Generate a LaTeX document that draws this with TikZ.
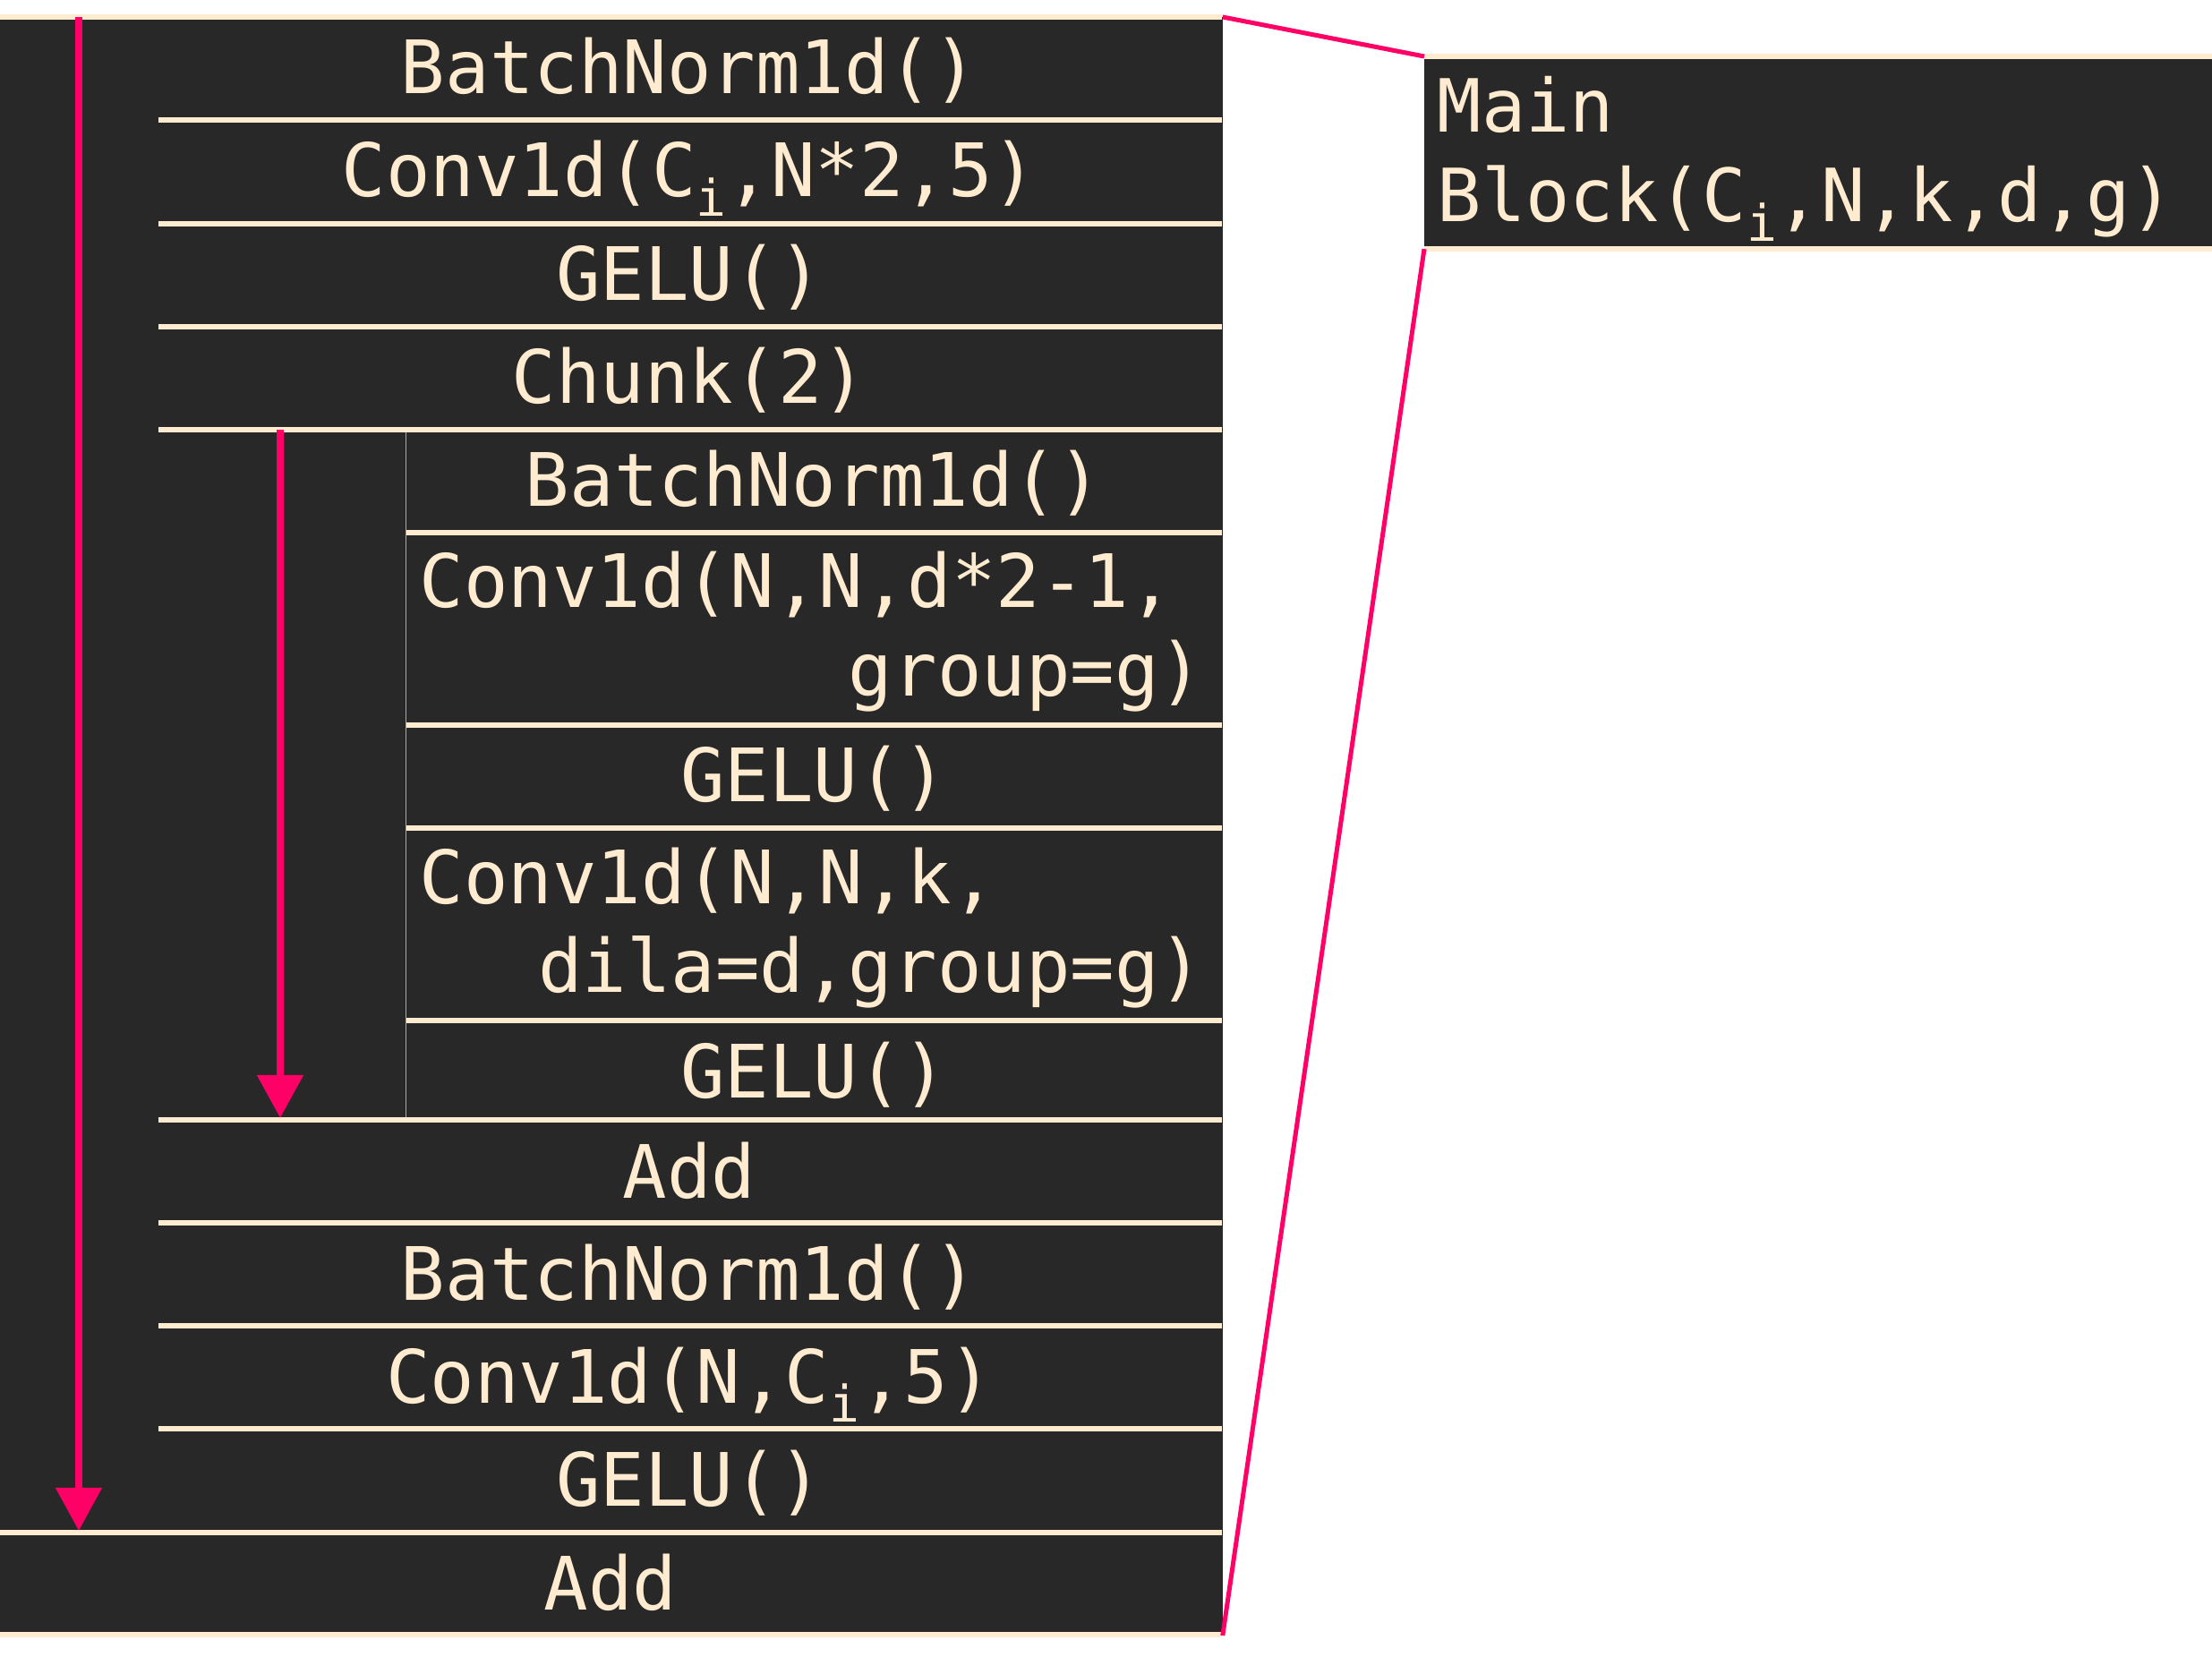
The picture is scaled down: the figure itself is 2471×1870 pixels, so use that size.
\documentclass[tikz,border=0pt]{standalone}
\usepackage{fontspec}
\newfontfamily\codefont{DejaVu Sans Mono}
\usetikzlibrary{arrows.meta}
\definecolor{bg}{HTML}{282828}
\definecolor{beige}{HTML}{FFEBCF}
\definecolor{pinkc}{HTML}{FF0066}
\newcommand{\subi}{\raisebox{-6pt}{\fontsize{16}{16}\selectfont i}}
\tikzset{
  blk/.style={fill=bg, draw=none, inner sep=0pt, outer sep=0pt},
  sepline/.style={draw=beige, line width=0.06cm},
  thinline/.style={draw=white!60!bg, line width=0.01cm},
  lbl/.style={text=beige, font=\codefont\fontsize{23.4}{28}\selectfont, inner sep=0pt, anchor=base},
  lblr/.style={text=beige, font=\codefont\fontsize{23.3}{28}\selectfont, inner sep=0pt, anchor=base west},
  flow/.style={draw=pinkc, line width=0.08cm, -{Triangle[width=0.5cm,length=0.48cm]}},
  link/.style={draw=pinkc, line width=0.05cm},
}
\begin{document}
\begin{tikzpicture}[x=0.01cm,y=-0.01cm]
\useasboundingbox[fill=white] (0,0) rectangle (2471,1870);
% backgrounds
\node[blk, minimum width=13.65cm, minimum height=18.07cm, anchor=north west] (main) at (0,19) {};
\node[blk, minimum width=8.80cm, minimum height=2.15cm, anchor=north west] (mb) at (1591,63) {};
% separator lines of the main block
\draw[sepline] (0,19) -- (1365,19);
\foreach \yy in {134.5,250,365.5,480,1251,1366,1481,1596}
  \draw[sepline] (177,\yy) -- (1365,\yy);
\foreach \yy in {595,810,925,1140}
  \draw[sepline] (453,\yy) -- (1365,\yy);
\draw[sepline] (0,1712) -- (1365,1712);
\draw[sepline] (0,1826) -- (1365,1826);
\draw[thinline] (453,483) -- (453,1248);
% right box lines
\draw[sepline] (mb.north west) -- (mb.north east);
\draw[sepline] (mb.south west) -- (mb.south east);
% labels
\node[lbl] (n1) at (770,105) {BatchNorm1d()};
\node[lbl] (n2) at (770,220) {Conv1d(C\subi,N*2,5)};
\node[lbl] (n3) at (770,336) {GELU()};
\node[lbl] (n4) at (770,451) {Chunk(2)};
\node[lbl] (n5) at (909,566) {BatchNorm1d()};
\node[lbl, anchor=base west] (n6a) at (468,679) {Conv1d(N,N,d*2-1,};
\node[lbl, anchor=base east] (n6b) at (1345,778) {group=g)};
\node[lbl] (n7) at (909,896) {GELU()};
\node[lbl, anchor=base west] (n8a) at (468,1010) {Conv1d(N,N,k,};
\node[lbl, anchor=base east] (n8b) at (1345,1109) {dila=d,group=g)};
\node[lbl] (n9) at (909,1226) {GELU()};
\node[lbl] (n10) at (770,1338) {Add};
\node[lbl] (n11) at (770,1452) {BatchNorm1d()};
\node[lbl] (n12) at (770,1567) {Conv1d(N,C\subi,5)};
\node[lbl] (n13) at (770,1682) {GELU()};
\node[lbl] (n14) at (682,1798) {Add};
\node[lblr] (m1) at (1605,148) {Main};
\node[lblr] (m2) at (1605,248) {Block(C\subi,N,k,d,g)};
% residual arrows
\coordinate (a1s) at (88,19);
\coordinate (a1e) at (88,1710);
\coordinate (a2s) at (313,480);
\coordinate (a2e) at (313,1249);
\draw[flow] (a1s) -- (a1e);
\draw[flow] (a2s) -- (a2e);
% zoom links
\draw[link] (main.north east) -- (mb.north west);
\draw[link] (mb.south west) -- (main.south east);
\end{tikzpicture}
\end{document}
